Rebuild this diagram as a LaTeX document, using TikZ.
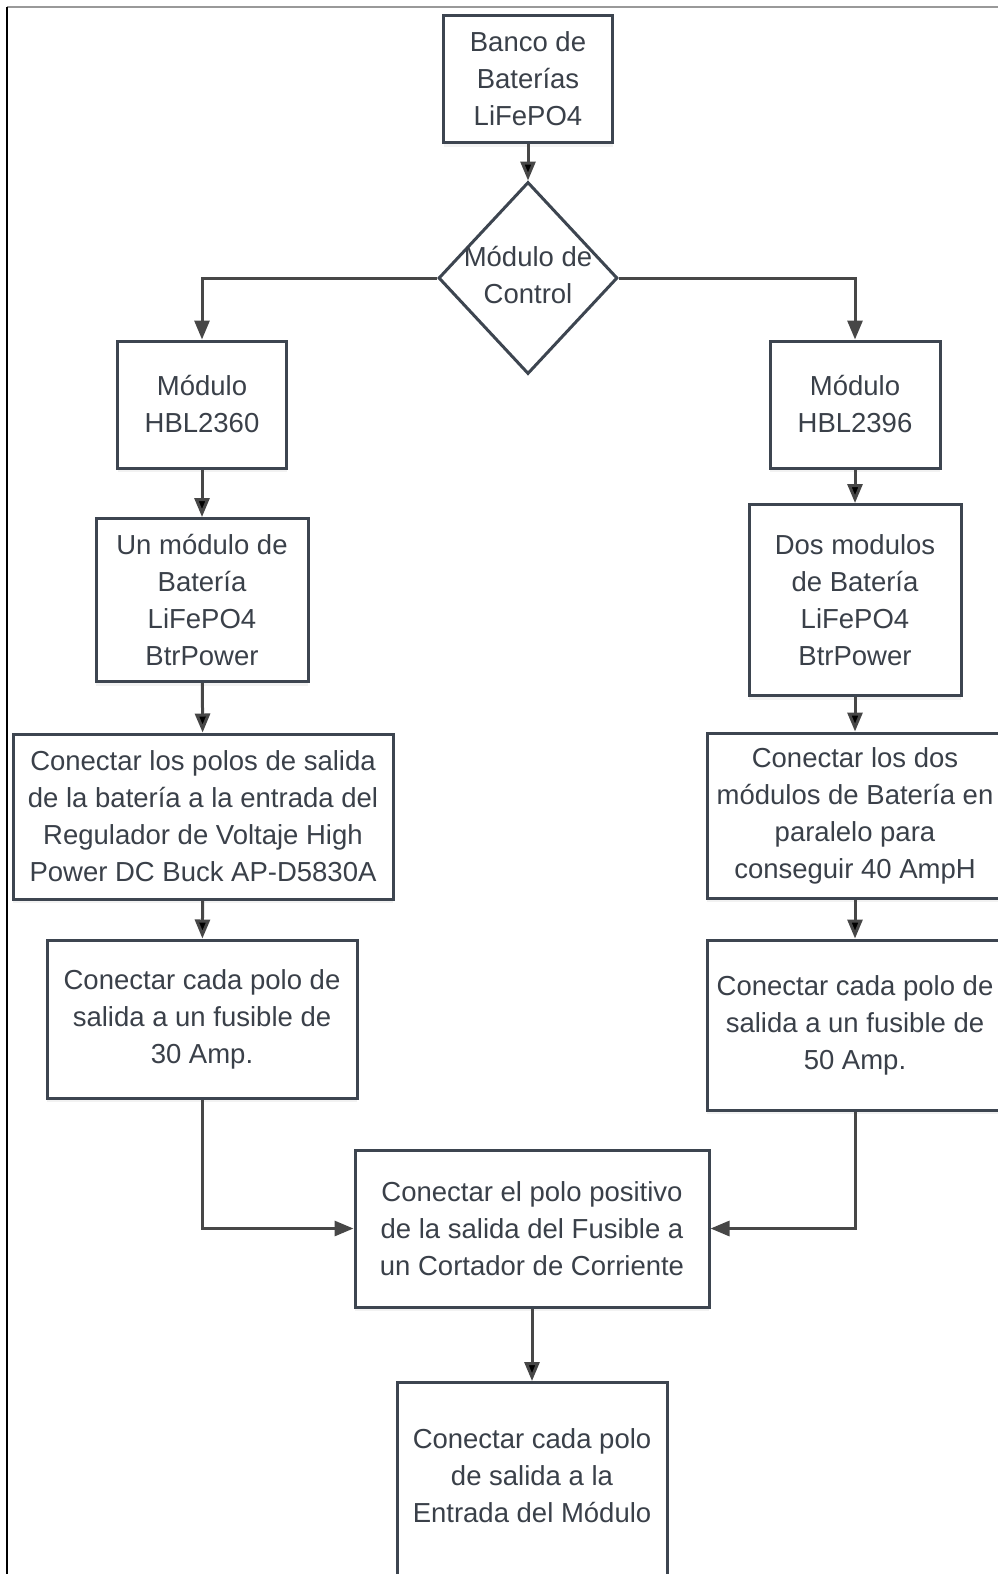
\documentclass[tikz,border=0pt]{standalone}
\usepackage{fontspec}
\setmainfont{Liberation Sans}
\usetikzlibrary{arrows.meta,shapes.geometric,shadows}

\definecolor{boxline}{HTML}{3D4550}
\definecolor{boxtext}{HTML}{3A4049}
\definecolor{arrline}{HTML}{474747}

\begin{document}
\begin{tikzpicture}[x=1pt,y=-1pt,>={Triangle[width=15pt,length=19pt]},
  every node/.style={font=\fontsize{27.5}{37}\selectfont,text=boxtext,align=center},
  box/.style={draw=boxline,line width=3pt,fill=white,inner sep=0pt,
    drop shadow={opacity=0.1,shadow xshift=0pt,shadow yshift=-4pt}},
  dia/.style={diamond,draw=boxline,line width=3pt,fill=white,inner sep=0pt},
  flow/.style={draw=arrline,line width=3pt}]
  \useasboundingbox (0,0) rectangle (998,1574);
  \draw[line width=2pt,gray!80] (7,6.5) -- (998,6.5);
  \draw[line width=1.5pt,black] (7,6.5) -- (7,1574);

  \node[box,minimum width=169pt,minimum height=127pt] (banco) at (528,79) {Banco de\\Baterías\\LiFePO4};
  \node[dia,minimum width=179pt,minimum height=192pt,
        label={[yshift=3pt]center:Módulo de\\Control}] (control) at (528,278) {};
  \node[box,minimum width=169pt,minimum height=127pt] (hbl60) at (202,404.5) {Módulo\\HBL2360};
  \node[box,minimum width=170pt,minimum height=127pt] (hbl96) at (855,404.5) {Módulo\\HBL2396};
  \node[box,minimum width=212pt,minimum height=163pt] (un) at (202,600) {Un módulo de\\Batería\\LiFePO4\\BtrPower};
  \node[box,minimum width=212pt,minimum height=191pt] (dos) at (855,600) {Dos modulos\\de Batería\\LiFePO4\\BtrPower};
  \node[box,minimum width=380pt,minimum height=165pt] (conl) at (203,816.5) {Conectar los polos de salida\\de la batería a la entrada del\\Regulador de Voltaje High\\Power DC Buck AP-D5830A};
  \node[box,minimum width=296pt,minimum height=165pt] (conr) at (855,815.5) {Conectar los dos\\módulos de Batería en\\paralelo para\\conseguir 40 AmpH};
  \node[box,minimum width=310pt,minimum height=158pt] (fus30) at (202,1019) {Conectar cada polo de\\salida a un fusible de\\30 Amp.};
  \node[box,minimum width=296pt,minimum height=170pt] (fus50) at (855,1025) {Conectar cada polo de\\salida a un fusible de\\50 Amp.};
  \node[box,minimum width=354pt,minimum height=157pt] (pos) at (532,1228.5) {Conectar el polo positivo\\de la salida del Fusible a\\un Cortador de Corriente};
  \node[box,minimum width=270pt,minimum height=240pt,anchor=north,
        label={[yshift=27pt]center:Conectar cada polo\\de salida a la\\Entrada del Módulo}] (ent) at (532,1381) {};

  \path[flow,->]
    (banco) edge (control)
    (hbl60) edge (un)
    (un) edge (conl)
    (conl) edge (fus30)
    (hbl96) edge (dos)
    (dos) edge (conr)
    (conr) edge (fus50)
    (pos) edge (ent);
  \draw[flow,->] (control.west) -| (hbl60.north);
  \draw[flow,->] (control.east) -| (hbl96.north);
  \draw[flow,->] (fus30.south) |- (pos.west);
  \draw[flow,->] (fus50.south) |- (pos.east);
\end{tikzpicture}
\end{document}
